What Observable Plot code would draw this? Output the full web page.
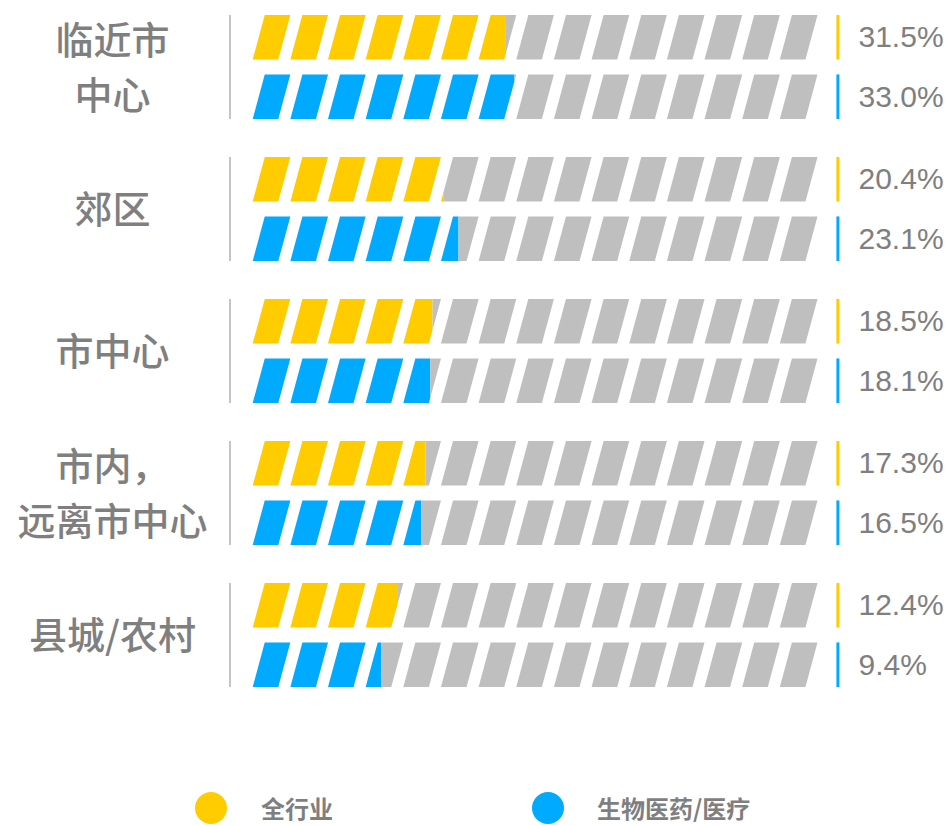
<!DOCTYPE html>
<html><head><meta charset="utf-8">
<script src="https://cdn.jsdelivr.net/npm/d3@7"></script>
<script src="https://cdn.jsdelivr.net/npm/@observablehq/plot@0.6"></script>
<style>
body{margin:0;background:#fff;}
#wrap{position:relative;width:952px;height:825px;overflow:hidden;background:#fff;}
#chart{position:absolute;left:0;top:0;}
.lg-dot{position:absolute;width:32px;height:32px;border-radius:50%;}
.lg-txt{position:absolute;font-family:"Noto Sans CJK SC",sans-serif;font-weight:bold;font-size:24px;line-height:30px;color:#7f7f7f;white-space:nowrap;}
</style></head><body>
<div id="wrap"><div id="chart"></div><div id="legend"></div></div>
<script>
// ---- data ----
const groups = ["临近市\n中心", "郊区", "市中心", "市内，\n远离市中心", "县城/农村"];
const seriesNames = ["全行业", "生物医药/医疗"];
const allIndustry = [31.5, 20.4, 18.5, 17.3, 12.4];
const biomed = [33.0, 23.1, 18.1, 16.5, 9.4];

// ---- style ----
const seriesColors = {"全行业": "#FFCC00", "生物医药/医疗": "#00AAFF"};
const restColor = "#BFBFBF";
const textColor = "#7f7f7f";

// bar geometry (in value units): 15 slanted segments, the track starts two segments left of 0
const NSEG = 15;
const PERIOD = 100 / NSEG;
const START = -2 * PERIOD;
const END = START + 100;
const SEGW = 0.68 * PERIOD;
const SLANT = 0.32 * PERIOD;
const BARH = 0.75;

const rows = groups.flatMap((g, gi) => seriesNames.map((s, si) => ({
  group: g, series: s, si, value: si === 0 ? allIndustry[gi] : biomed[gi]
})));

// build clipped parallelogram polygons for each segment
const polys = [];
let pid = 0;
rows.forEach(r => {
  const top = r.si, bot = r.si + BARH, v = r.value;
  for (let i = 0; i < NSEG; i++) {
    const left = START + i * PERIOD;
    const x1 = y => left + SLANT * (bot - y) / BARH;
    const x2 = y => x1(y) + SEGW;
    let ys = [top, bot];
    const ya = bot - (v - left) / SLANT * BARH;
    const yb = bot - (v - left - SEGW) / SLANT * BARH;
    [ya, yb].forEach(y => { if (y > top && y < bot) ys.push(y); });
    ys.sort((a, b) => a - b);
    const colored = [], rest = [];
    ys.forEach(y => {
      const a = x1(y), b = x2(y);
      const hi = Math.min(b, v);
      if (hi >= a - 1e-9) colored.push({y, x1: a, x2: Math.max(hi, a)});
      const lo = Math.max(a, v);
      if (b >= lo - 1e-9) rest.push({y, x1: Math.min(lo, b), x2: b});
    });
    if (colored.length >= 2) { const id = pid++; colored.forEach(p => polys.push({...p, id, group: r.group, fill: seriesColors[r.series]})); }
    if (rest.length >= 2) { const id = pid++; rest.forEach(p => polys.push({...p, id, group: r.group, fill: restColor})); }
  }
});

const H = 760;
const chart = Plot.plot({
  width: 952,
  height: H,
  marginTop: 12.7,
  marginBottom: H - 688.9,
  marginLeft: 252.7,
  marginRight: 952 - 817.5,
  style: {background: "#fff", overflow: "visible"},
  x: {domain: [START, END], axis: null},
  y: {domain: [0, 1.75], reverse: true, axis: null},
  fy: {domain: groups, axis: null, paddingInner: 0.265, paddingOuter: 0},
  color: {type: "identity"},
  marks: [
    Plot.areaX(polys, {y: "y", x1: "x1", x2: "x2", z: "id", fill: "fill", fy: "group", curve: "linear"}),
    Plot.ruleX(groups, {fy: d => d, x: () => START, dx: -23.2, y1: () => 0, y2: () => 1.75, stroke: "#c4c4c4", strokeWidth: 2}),
    Plot.ruleX(rows, {fy: "group", x: () => END, dx: 19.9, y1: d => d.si, y2: d => d.si + BARH, stroke: d => seriesColors[d.series], strokeWidth: 3}),
    Plot.text(rows, {fy: "group", x: () => END, dx: 40.5, y: d => d.si + BARH / 2, text: d => d.value.toFixed(1) + "%",
      textAnchor: "start", fontSize: 30, fill: textColor, fontFamily: "Liberation Sans, Arial, sans-serif"}),
    Plot.text(groups, {fy: d => d, x: () => START, dx: -140.7, dy: -4, y: () => 0.875, text: d => d,
      textAnchor: "middle", fontSize: 38, fontWeight: 500, lineHeight: 1.46, fill: textColor, fontFamily: "Noto Sans CJK SC, sans-serif"})
  ]
});
document.getElementById("chart").appendChild(chart);

// legend
const legend = document.getElementById("legend");
const lgPos = [{dot: 195, txt: 261}, {dot: 531.5, txt: 597}];
seriesNames.forEach((s, i) => {
  const dot = document.createElement("div");
  dot.className = "lg-dot";
  dot.style.left = lgPos[i].dot + "px";
  dot.style.top = "792px";
  dot.style.background = seriesColors[s];
  legend.appendChild(dot);
  const t = document.createElement("div");
  t.className = "lg-txt";
  t.style.left = lgPos[i].txt + "px";
  t.style.top = "793px";
  t.textContent = s;
  legend.appendChild(t);
});
</script>
</body></html>
